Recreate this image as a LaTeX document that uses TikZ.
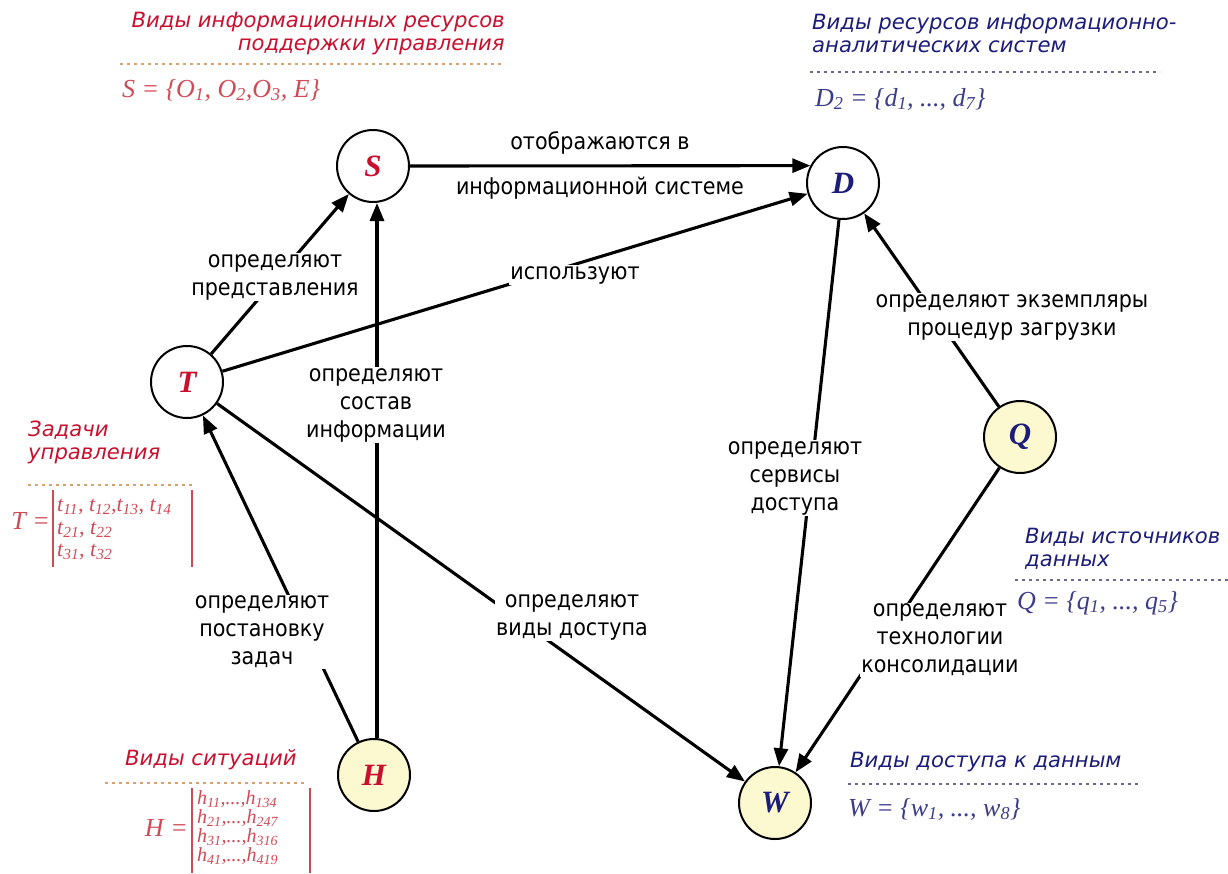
\documentclass[tikz,border=0pt]{standalone}
\usepackage{fontspec}
\setmainfont{Liberation Serif}
\newfontfamily\gost{DejaVu Sans Condensed}
\newfontfamily\gosthead[FakeStretch=1.12]{DejaVu Sans Condensed}
\usetikzlibrary{arrows.meta}
\definecolor{hred}{HTML}{C8102E}
\definecolor{fred}{HTML}{D04A55}
\definecolor{hblue}{HTML}{1C1C7A}
\definecolor{fblue}{HTML}{3C3C8C}
\definecolor{cream}{HTML}{FCF8CF}
\definecolor{dotor}{HTML}{D9A070}
\definecolor{dotbl}{HTML}{6A6A90}
\newcommand\lo[1]{\textsubscript{#1}}
\tikzset{
  circ/.style={circle, draw=black, line width=2pt, minimum size=72pt, inner sep=0pt, fill=white,
    font=\fontsize{31}{31}\selectfont\bfseries\itshape},
  yel/.style={fill=cream},
  arr/.style={line width=3.1pt, -{Triangle[length=18pt,width=14pt]}},
  lab/.style={fill=white, inner sep=1pt, align=center, font=\gost\fontsize{23}{28}\selectfont},
  head/.style={font=\gosthead\itshape\fontsize{21}{23}\selectfont, inner sep=0pt},
  form/.style={font=\itshape\fontsize{26}{28}\selectfont, inner sep=0pt},
  mrow/.style={font=\itshape\fontsize{22}{22}\selectfont, inner sep=0pt, anchor=west},
  hrow/.style={font=\itshape\fontsize{20}{20}\selectfont, inner sep=0pt, anchor=west},
  dots/.style={dash pattern=on 3pt off 4pt, line width=1.6pt},
  bar/.style={line width=2pt, fred}
}
\begin{document}
\begin{tikzpicture}[x=1pt,y=-1pt]
\useasboundingbox (0,0) rectangle (1228,873);
% nodes
\node[circ] (S) at (373,166) {\textcolor{hred}{S}};
\node[circ] (D) at (843,183) {\textcolor{hblue}{D}};
\node[circ] (T) at (187,382) {\textcolor{hred}{T}};
\node[circ,yel] (Q) at (1020,437) {\textcolor{hblue}{Q}};
\node[circ,yel] (H) at (374,775) {\textcolor{hred}{H}};
\node[circ,yel] (W) at (775,803) {\textcolor{hblue}{W}};
% edges
\draw[arr] (S.east) -- (D.152);
\draw[arr] (T) -- (S);
\draw[arr] (T) -- (D);
\draw[arr] (H.north) ++(3,0) coordinate (Hn) (Hn) -- (Hn |- S.south);
\draw[arr] (H) -- (T);
\draw[arr] (T) -- (W);
\draw[arr] (D) -- (W);
\draw[arr] (Q) -- (D);
\draw[arr] (Q) -- (W);
% edge labels
\node[lab, fill=none] (l1a) at (600,143) {отображаются в};
\node[lab, fill=none] (l1b) at (600,188) {информационной системе};
\node[lab] (l2) at (275,277) {определяют\\представления};
\node[lab] (l3) at (575,275) {используют};
\node[lab] (l4) at (376,405) {определяют\\состав\\информации};
\node[lab] (l5) at (262,632) {определяют\\постановку\\задач};
\node[lab] (l6) at (572,617) {определяют\\виды доступа};
\node[lab] (l7) at (795,478) {определяют\\сервисы\\доступа};
\node[lab] (l8) at (1012,317) {определяют экземпляры\\процедур загрузки};
\node[lab] (l9) at (940,640) {определяют\\технологии\\консолидации};
% S header
\node[head, hred, anchor=north east, align=right] (hS) at (505,12) {Виды информационных ресурсов\\поддержки управления};
\draw[dots, dotor] (120,64) -- (505,64);
\node[form, fred, anchor=west] (fS) at (122,90) {S = \{O\lo{1}, O\lo{2},O\lo{3}, E\}};
% D header
\node[head, hblue, anchor=north west, align=left] (hD) at (812,14) {Виды ресурсов информационно-\\аналитических систем};
\draw[dots, dotbl] (810,72) -- (1160,72);
\node[form, fblue, anchor=west] (fD) at (815,99) {D\lo{2} = \{d\lo{1}, ..., d\lo{7}\}};
% Q header
\node[head, hblue, anchor=north west, align=left] (hQ) at (1025,528) {Виды источников\\данных};
\draw[dots, dotbl] (1015,580) -- (1228,580);
\node[form, fblue, anchor=west] (fQ) at (1017,603) {Q = \{q\lo{1}, ..., q\lo{5}\}};
% W header
\node[head, hblue, anchor=west] (hW) at (850,762) {Виды доступа к данным};
\draw[dots, dotbl] (848,784) -- (1140,784);
\node[form, fblue, anchor=west] (fW) at (848,809) {W = \{w\lo{1}, ..., w\lo{8}\}};
% T block
\node[head, hred, anchor=north west, align=left] (hT) at (28,421) {Задачи\\управления};
\draw[dots, dotor] (28,485) -- (192,485);
\node[form, fred, anchor=east] (fT) at (50,521) {T =};
\draw[bar] (53,490) -- (53,567);
\draw[bar] (192,490) -- (192,567);
\node[mrow, fred] (t1) at (57,507) {t\lo{11}, t\lo{12},t\lo{13}, t\lo{14}};
\node[mrow, fred] (t2) at (57,530) {t\lo{21}, t\lo{22}};
\node[mrow, fred] (t3) at (57,552) {t\lo{31}, t\lo{32}};
% H block
\node[head, hred, anchor=west] (hH) at (125,760) {Виды ситуаций};
\draw[dots, dotor] (105,783) -- (305,783);
\node[form, fred, anchor=east] (fH) at (188,828) {H =};
\draw[bar] (192,788) -- (192,873);
\draw[bar] (310,788) -- (310,873);
\node[hrow, fred] (h1) at (197,799) {h\lo{11},...,h\lo{134}};
\node[hrow, fred] (h2) at (197,818) {h\lo{21},...,h\lo{247}};
\node[hrow, fred] (h3) at (197,837) {h\lo{31},...,h\lo{316}};
\node[hrow, fred] (h4) at (197,856) {h\lo{41},...,h\lo{419}};
\end{tikzpicture}
\end{document}
